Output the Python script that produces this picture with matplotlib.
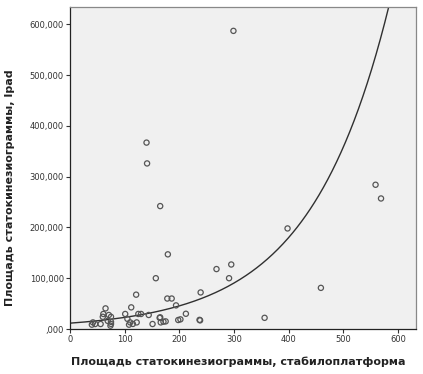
import numpy as np
import matplotlib
matplotlib.use("Agg")
import matplotlib.pyplot as plt
from matplotlib.ticker import FuncFormatter

# Data
x_vals = [299, 140, 141, 165, 398, 559, 569, 459, 356, 179, 157, 268, 295, 291,
          239, 178, 186, 194, 212, 237, 238, 198, 202, 164, 175, 171, 151,
          121, 65, 112, 61, 71, 101, 125, 130, 144, 165, 166, 122, 110, 108,
          75, 75, 75, 69, 42, 46, 56, 40, 74, 105, 115, 60]
y_vals = [587000, 367000, 326000, 242000, 198000, 284000, 257000, 81000, 22000,
          147000, 100000, 118000, 127000, 100000, 72000, 60000, 60000, 46500,
          30000, 18000, 17000, 17700, 19000, 22000, 15000, 14400, 9800,
          67600, 40600, 42600, 29600, 27600, 29600, 29600, 29600, 27600, 23000,
          13000, 13000, 13000, 8500, 24000, 14000, 10000, 16000, 13000, 9800,
          9800, 8500, 6500, 20000, 10000, 24000]

# Exponential fit coefficients (y = a * exp(b * x))
fit_a = 11500
fit_b = 0.006877

x_ticks = [0, 100, 200, 300, 400, 500, 600]
y_ticks = [0, 100000, 200000, 300000, 400000, 500000, 600000]
x_label = "Площадь статокинезиограммы, стабилоплатформа"
y_label = "Площадь статокинезиограммы, Ipad"

fig = plt.figure(figsize=(4.23, 3.74), dpi=100)
ax = fig.add_axes([70/423, 45/374, 346/423, 322/374])
ax.set_facecolor("#f0f0f0")

ax.scatter(x_vals, y_vals, s=14, facecolors="none", edgecolors="#555555",
           linewidths=0.9, zorder=3)

xs = np.linspace(0, 640, 400)
ax.plot(xs, fit_a * np.exp(fit_b * xs), color="#303030", linewidth=1.0, zorder=2)

ax.set_xlim(0, 633)
ax.set_ylim(0, 634000)
ax.set_xticks(x_ticks)
ax.set_yticks(y_ticks)

def yfmt(v, pos):
    if v == 0:
        return ",000"
    return f"{int(v/1000)},000"

ax.yaxis.set_major_formatter(FuncFormatter(yfmt))
ax.tick_params(axis="both", labelsize=6, length=3, width=0.8, color="#333333",
               labelcolor="#333333", pad=1.5)

for side in ["left", "bottom"]:
    ax.spines[side].set_color("#222222")
    ax.spines[side].set_linewidth(0.9)
for side in ["top", "right"]:
    ax.spines[side].set_color("#888888")
    ax.spines[side].set_linewidth(0.9)

ax.set_xlabel(x_label, fontsize=8.0, fontweight="bold", color="#222222")
ax.set_ylabel(y_label, fontsize=8.0, fontweight="bold", color="#222222")
ax.xaxis.set_label_coords(0.485, -0.085)
ax.yaxis.set_label_coords(-0.16, 0.44)

fig.savefig("out.png", dpi=100, facecolor="white")
